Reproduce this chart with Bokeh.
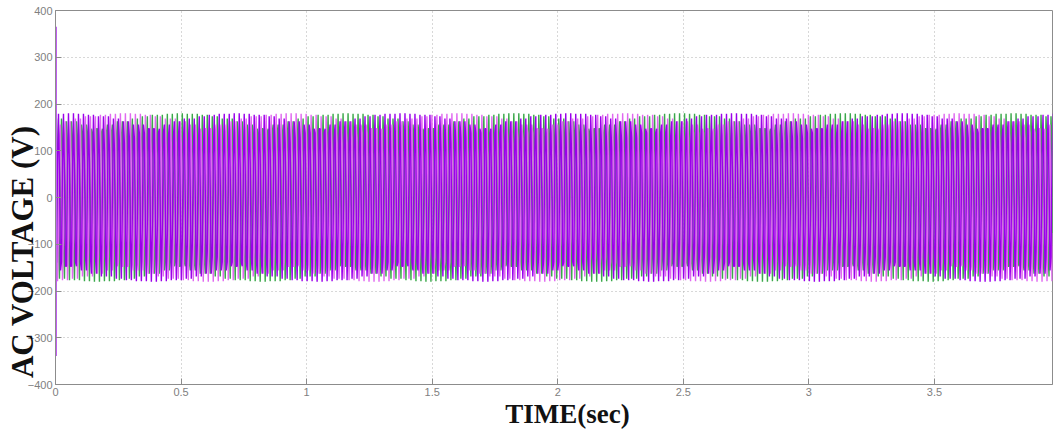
import numpy as np
from bokeh.plotting import figure
from bokeh.models import FixedTicker, Range1d
from bokeh.embed import file_html
from bokeh.resources import INLINE

# ---- data ----
phase_names = ["Va", "Vb", "Vc"]
line_frequency_hz = 50
time_end = 3.97
# one cycle of the phase voltage, 72 samples (5 degree steps), peak about 180 V
cycle_wave = [0, 16, 31, 47, 62, 76, 90, 103, 116, 127, 138, 147, 156, 163, 169, 174, 177, 179,
              180, 179, 177, 174, 169, 163, 156, 147, 138, 127, 116, 103, 90, 76, 62, 47, 31, 16,
              0, -16, -31, -47, -62, -76, -90, -103, -116, -127, -138, -147, -156, -163, -169, -174, -177, -179,
              -180, -179, -177, -174, -169, -163, -156, -147, -138, -127, -116, -103, -90, -76, -62, -47, -31, -16]
phase_shift_samples = [0, 24, 48]      # 0, 120, 240 degrees
scope_sample_period = 0.003976         # s, scope display sample time
# start-up spike at t = 0
startup_time = [0.002, 0.002]
startup_volt = [365, -339]

x_ticks = [0, 0.5, 1, 1.5, 2, 2.5, 3, 3.5]
y_ticks = [-400, -300, -200, -100, 0, 100, 200, 300, 400]

phase_colors = ["#3aa84a", "#e068f0", "#9a00ea"]

table = np.array(cycle_wave, dtype=float)
n_tab = len(table)
dt_tab = 1.0 / (line_frequency_hz * n_tab)
t = np.arange(0.0, time_end + scope_sample_period, scope_sample_period)
k = np.rint(t / dt_tab).astype(int)

p = figure(width=1055, height=431, output_backend="svg", toolbar_location=None,
           x_range=Range1d(0, time_end), y_range=Range1d(-400, 400),
           min_border_left=55, min_border_right=3, min_border_top=10, min_border_bottom=46,
           background_fill_color="white", border_fill_color="white")

for shift, col in zip(phase_shift_samples, phase_colors):
    v = table[(k + shift) % n_tab]
    p.line(t, v, line_color=col, line_width=1.4)

p.line(startup_time, startup_volt, line_color="#c060f0", line_width=2)

p.xaxis.ticker = FixedTicker(ticks=x_ticks)
p.yaxis.ticker = FixedTicker(ticks=y_ticks)
p.xaxis.major_label_overrides = {0: "0", 1: "1", 2: "2", 3: "3"}

for ax in (p.xaxis[0], p.yaxis[0]):
    ax.axis_line_color = "#8c8c8c"
    ax.major_tick_line_color = "#8c8c8c"
    ax.major_tick_in = 6
    ax.major_tick_out = 0
    ax.minor_tick_line_color = None
    ax.major_label_text_font = "Liberation Sans"
    ax.major_label_text_font_size = "11px"
    ax.major_label_text_color = "#808080"
    ax.major_label_standoff = 3
    ax.axis_label_text_font = "Liberation Serif"
    ax.axis_label_text_font_style = "bold"
    ax.axis_label_text_color = "#111111"

nb = "\u00a0"
p.yaxis.axis_label = "AC VOLTAGE (V)" + nb * 14
p.yaxis.axis_label_text_font_size = "31px"
p.yaxis.axis_label_standoff = -15
p.xaxis.axis_label = nb * 4 + "TIME(sec)"
p.xaxis.axis_label_text_font_size = "27px"
p.xaxis.axis_label_standoff = 0

p.grid.grid_line_color = "#b0b0b0"
p.grid.grid_line_dash = "1 3"
p.outline_line_color = "#8c8c8c"

open("out.html", "w").write(file_html(p, INLINE))
